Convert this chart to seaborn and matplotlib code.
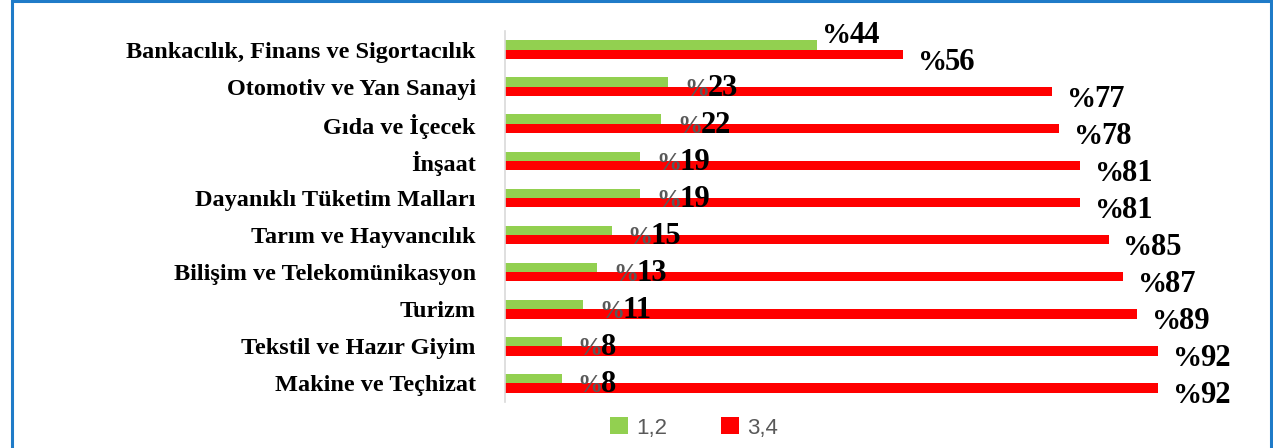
import matplotlib
matplotlib.use('Agg')
import matplotlib.pyplot as plt
import seaborn as sns
import pandas as pd
from matplotlib.lines import Line2D
from matplotlib.font_manager import FontProperties

# Sector names and the share of answers in each group
sectors = ['Bankacılık, Finans ve Sigortacılık', 'Otomotiv ve Yan Sanayi', 'Gıda ve İçecek',
           'İnşaat', 'Dayanıklı Tüketim Malları', 'Tarım ve Hayvancılık',
           'Bilişim ve Telekomünikasyon', 'Turizm', 'Tekstil ve Hazır Giyim',
           'Makine ve Teçhizat']
group_12 = [44, 23, 22, 19, 19, 15, 13, 11, 8, 8]
group_34 = [56, 77, 78, 81, 81, 85, 87, 89, 92, 92]
groups = ['1,2', '3,4']
colors = ['#92D050', '#FF0000']

df = pd.DataFrame({'sector': sectors * 2,
                   'value': group_12 + group_34,
                   'group': [groups[0]] * len(sectors) + [groups[1]] * len(sectors)})

sns.set_style('white')
fig = plt.figure(figsize=(12.73, 4.48), dpi=100)
ax = fig.add_axes([505 / 1273, 46 / 448, 710 / 1273, 371 / 448])

sns.barplot(data=df, x='value', y='sector', hue='group', order=sectors, hue_order=groups,
            palette=colors, saturation=1, width=0.5, orient='h', ax=ax, legend=True,
            linewidth=0)
ax.set_xlim(0, 100)
ax.set_xlabel('')
ax.set_ylabel('')
ax.set_xticks([])
for s in ['top', 'right', 'bottom']:
    ax.spines[s].set_visible(False)
ax.spines['left'].set_color('#D9D9D9')
ax.spines['left'].set_linewidth(1.2)

serif_bold = FontProperties(family='Liberation Serif', weight='bold', size=17.5)
ax.set_yticks(range(len(sectors)))
ax.set_yticklabels(sectors, fontproperties=serif_bold, color='black')
ax.tick_params(axis='y', length=0, pad=21)

num_font = FontProperties(family='Liberation Serif', weight='bold', size=22)


def put_label(value, y, dx, dy, pct_color, pct_size):
    pct_font = FontProperties(family='Liberation Serif', weight='bold', size=pct_size)
    pct = ax.annotate('%', xy=(value, y), xytext=(dx, dy), textcoords='offset pixels',
                      ha='left', va='baseline', fontproperties=pct_font, color=pct_color,
                      annotation_clip=False)
    # number right after the percent sign
    ax.annotate(str(value), xy=(1, y), xycoords=(pct, 'data'), xytext=(-2, dy),
                textcoords='offset pixels', ha='left', va='baseline', fontproperties=num_font,
                color='black', annotation_clip=False)


# data labels
for i, (g, r) in enumerate(zip(group_12, group_34)):
    if i == 0:
        put_label(g, i, 5, 7, 'black', 21)
    else:
        put_label(g, i, 16, -9, '#595959', 18)
    put_label(r, i, 15, -20, 'black', 21)

leg = ax.legend(loc='center', bbox_to_anchor=(694 / 1273, 20 / 448), bbox_transform=fig.transFigure,
                ncol=2, frameon=False, handlelength=0.8, handleheight=0.8, handletextpad=0.4,
                columnspacing=2.4, prop={'family': ['Liberation Sans Narrow', 'Liberation Sans'], 'size': 16})
for t in leg.get_texts():
    t.set_color('#595959')

# blue frame round the chart
blue = '#1F7BC8'
w, h = 1273, 448
fig.add_artist(Line2D([11.5 / w, 11.5 / w], [0, 1], transform=fig.transFigure, color=blue, lw=2.2))
fig.add_artist(Line2D([11.5 / w, 1], [1 - 1.2 / h, 1 - 1.2 / h], transform=fig.transFigure, color=blue, lw=2.2))
fig.add_artist(Line2D([1 - 2.5 / w, 1 - 2.5 / w], [0, 1], transform=fig.transFigure, color=blue, lw=2.2))

fig.savefig('out.png', dpi=100)
